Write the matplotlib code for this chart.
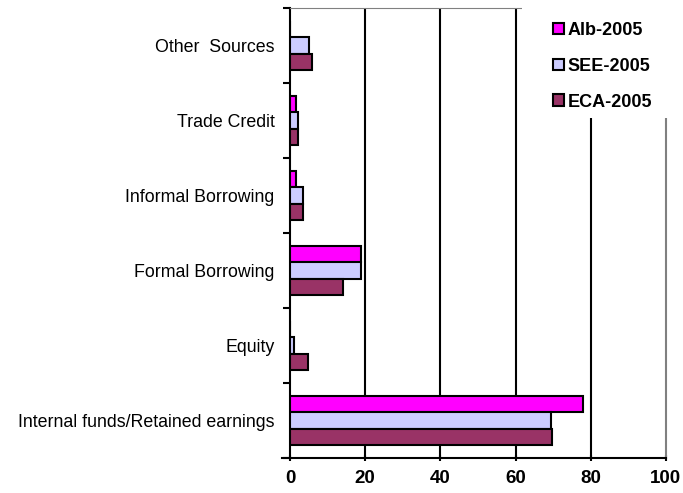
import numpy as np
import matplotlib.pyplot as plt
from matplotlib.patches import Rectangle

plt.rcParams['font.family'] = ['Liberation Sans', 'DejaVu Sans']

categories = ["Internal funds/Retained earnings", "Equity", "Formal Borrowing",
              "Informal Borrowing", "Trade Credit", "Other  Sources"]
alb = [78.0, 0.0, 18.8, 1.5, 1.6, 0.0]
see = [69.3, 1.0, 18.8, 3.5, 2.2, 5.1]
eca = [69.6, 4.9, 14.0, 3.5, 2.2, 5.9]
labels = ["Alb-2005", "SEE-2005", "ECA-2005"]
colors = ["#FF00FF", "#CCCCFF", "#993366"]

fig = plt.figure(figsize=(6.83, 4.93), dpi=100)
ax = fig.add_axes([0.4246, 0.071, 0.5504, 0.913])

y = np.arange(len(categories))
h = 0.22
for i, (vals, lab, col) in enumerate(zip([alb, see, eca], labels, colors)):
    ax.barh(y + (1 - i) * h, vals, height=h, color=col, edgecolor="black",
            linewidth=1.5, label=lab, zorder=3)

ax.set_xlim(0, 100)
ax.set_ylim(-0.5, len(categories) - 0.5)
ax.set_xticks([0, 20, 40, 60, 80, 100])
ax.set_xticklabels(["0", "20", "40", "60", "80", "100"], fontweight="bold", fontsize=13.5)
ax.set_yticks(y)
ax.set_yticklabels(categories, fontsize=12.8)
ax.set_yticks(np.arange(-0.5, len(categories), 1), minor=True)
ax.tick_params(axis="y", which="major", length=0, pad=11)
ax.tick_params(axis="y", which="minor", length=5, width=1.5, direction="out")
ax.tick_params(axis="x", length=5, width=1.5, direction="inout", pad=6)

for v in [20, 40, 60, 80]:
    ax.axvline(v, color="black", linewidth=1.5, zorder=1)

ax.spines["left"].set_linewidth(1.5)
ax.spines["bottom"].set_linewidth(1.5)
ax.spines["top"].set_color("#808080")
ax.spines["right"].set_color("#808080")
ax.spines["right"].set_linewidth(1.5)
# x axis line sticks out a little left of zero
ax.plot([-0.02, 0], [0, 0], transform=ax.transAxes, color="black",
        linewidth=1.5, clip_on=False)

# white box behind the legend hides the grid lines
fig.patches.append(Rectangle((0.765, 0.76), 0.3, 0.3, transform=fig.transFigure,
                             facecolor="white", edgecolor="none", zorder=5))
leg = fig.legend(loc="upper left", bbox_to_anchor=(0.786, 0.989), frameon=False,
                 prop={"weight": "bold", "size": 13}, handlelength=0.6,
                 handleheight=0.6, handletextpad=0.2, labelspacing=1.05)
leg.set_zorder(6)

fig.savefig("out.png", dpi=100)
